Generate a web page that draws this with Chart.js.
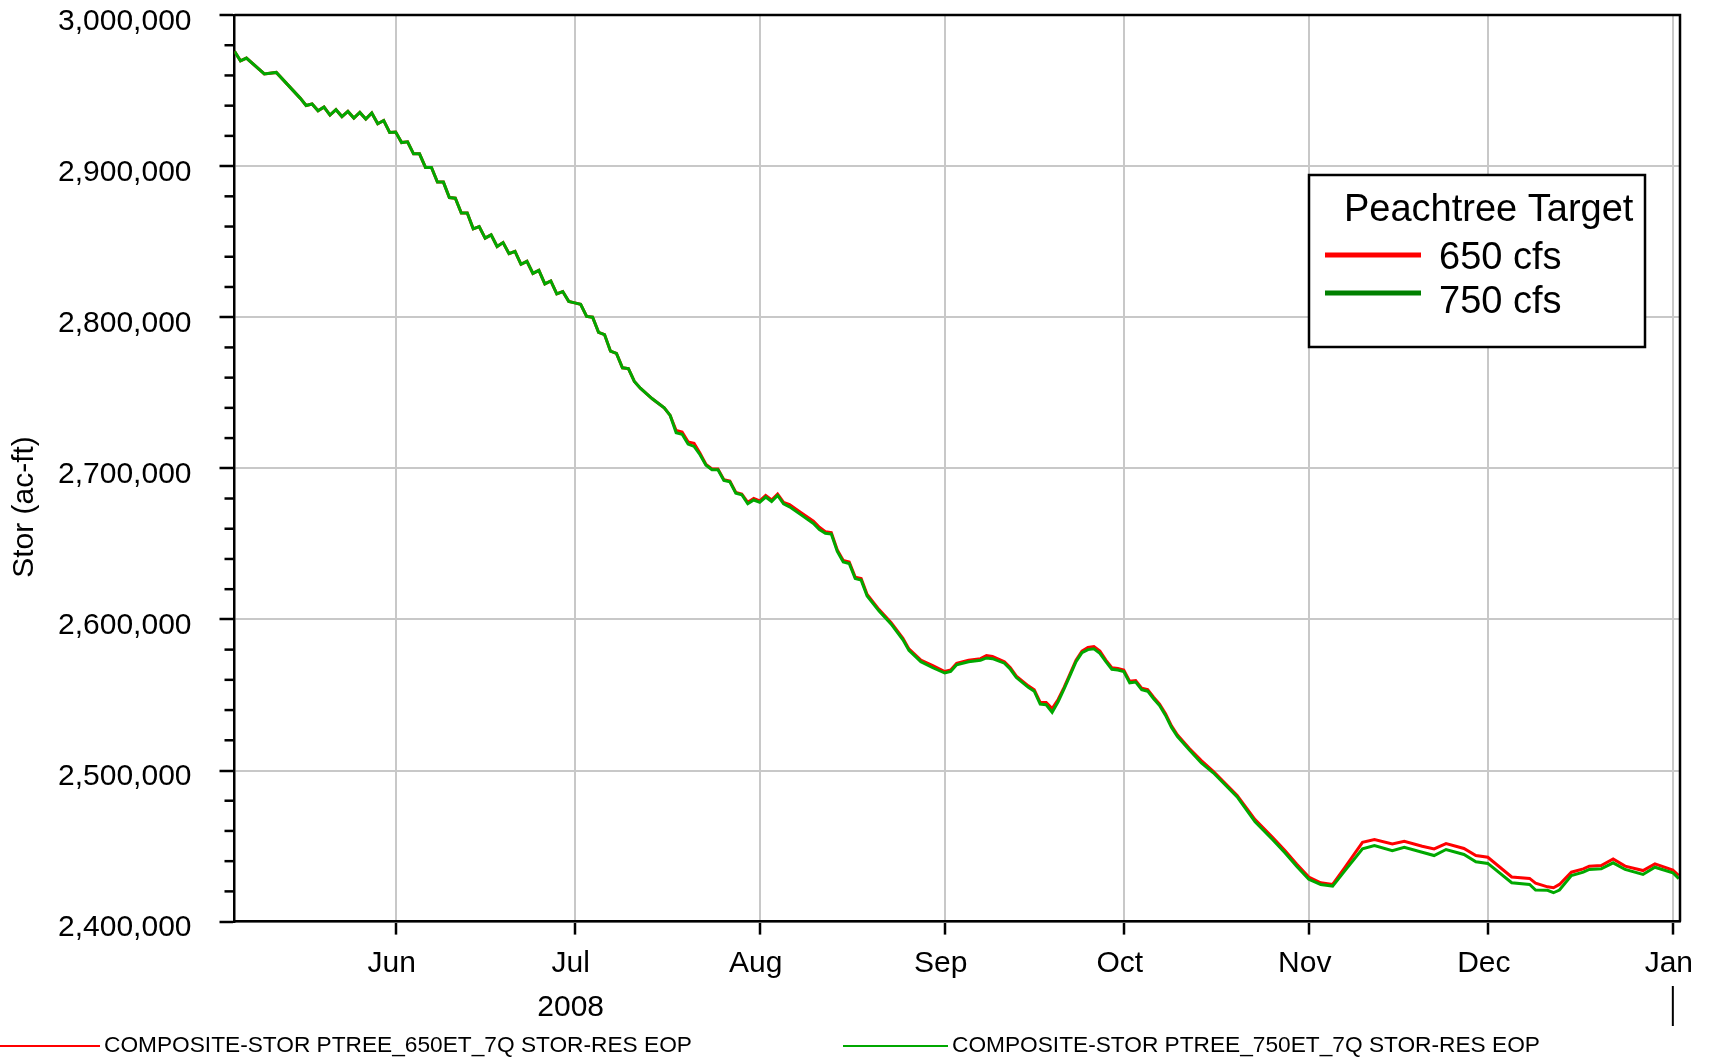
<!DOCTYPE html>
<html>
<head>
<meta charset="utf-8">
<title>Peachtree Target - Stor (ac-ft)</title>
<script src="https://cdn.jsdelivr.net/npm/chart.js@4.4.1/dist/chart.umd.min.js"></script>
<style>
  html, body { margin: 0; padding: 0; background: #fff; }
  #wrap { width: 1710px; height: 1058px; }
</style>
</head>
<body>
<div id="wrap"><canvas id="storChart" width="1710" height="1058"></canvas></div>
<script>
// day number, counted from 1 May 2008 (= day 0)
const days = [
  4, 5, 6, 9, 11,
  15, 16, 17, 18, 19, 20, 21, 22, 23, 24, 25, 26, 27, 28, 29, 30,
  31, 32, 33, 34, 35, 36, 37, 38, 39, 40, 41, 42, 43, 44, 45, 46, 47, 48, 49, 50, 51, 52, 53, 54, 55, 56, 57, 58, 59, 60,
  61, 62, 63, 64, 65, 66, 67, 68, 69, 70, 71, 72, 74, 76, 77, 78, 79, 80, 81, 82, 83, 84, 85, 86, 87, 88, 89, 90, 91,
  92, 93, 94, 95, 96, 97, 99, 101, 102, 103, 104, 105, 106, 107, 108, 109, 110, 112, 114, 116, 117, 119, 121,
  123, 124, 125, 127, 129, 130, 131, 133, 134, 135, 137, 138, 139, 140, 141, 142, 143, 144, 145, 146, 147, 148, 149, 150, 151, 152,
  153, 154, 155, 156, 157, 158, 159, 160, 161, 162, 164, 166, 168, 172, 175, 178, 180, 182,
  184, 186, 188, 190, 193, 195, 198, 200, 203, 205, 207, 210, 212,
  214, 218, 221, 222, 224, 225, 226, 228, 230, 231, 233, 235, 237, 240, 242, 245, 246
];

// COMPOSITE-STOR PTREE_650ET_7Q STOR-RES EOP
const stor650 = [
  2976000, 2969700, 2971500, 2961000, 2962000,
  2945000, 2940100, 2941100, 2936600, 2939100, 2933800, 2937300, 2932800, 2936200, 2931800, 2935500, 2931100, 2935100, 2928000, 2930200, 2922300,
  2922500, 2915600, 2916100, 2908100, 2908100, 2899100, 2899100, 2889400, 2889400, 2879200, 2878800, 2868900, 2868900, 2858500, 2860000, 2852300, 2854500, 2846800, 2849400, 2842000, 2843500, 2835000, 2837000, 2829000, 2831000, 2822000, 2824000, 2815500, 2817000, 2810500,
  2809500, 2808500, 2800500, 2800000, 2790000, 2788500, 2777500, 2776000, 2766500, 2766000, 2757500, 2753000, 2746000, 2740000, 2735000, 2725000, 2724000, 2717500, 2716500, 2710000, 2702500, 2699500, 2699500, 2692500, 2691500, 2684000, 2683000, 2677500, 2680000,
  2678500, 2682000, 2679000, 2683000, 2677500, 2676000, 2670500, 2665000, 2661000, 2658000, 2657500, 2646000, 2639000, 2638000, 2628000, 2627000, 2616500, 2606500, 2598000, 2587500, 2580500, 2573000, 2569500,
  2565500, 2566500, 2571000, 2573000, 2574000, 2576000, 2575500, 2572000, 2568000, 2562500, 2556000, 2553500, 2545000, 2545000, 2541000, 2547000, 2555000, 2564000, 2573000, 2579000, 2581500, 2582000, 2579000, 2573000, 2568000, 2567500,
  2566500, 2559000, 2559500, 2554500, 2553500, 2548500, 2544000, 2537500, 2529500, 2523500, 2514500, 2506500, 2499500, 2483500, 2467500, 2455500, 2447000, 2438000,
  2429500, 2425700, 2424600, 2435600, 2452500, 2454300, 2451400, 2453200, 2449900, 2448100, 2451600, 2448400, 2443700,
  2442600, 2429500, 2428600, 2425500, 2423000, 2422400, 2424600, 2432700, 2434900, 2436700, 2437100, 2441500, 2436700, 2433800, 2438200, 2434100, 2430500
];

// COMPOSITE-STOR PTREE_750ET_7Q STOR-RES EOP
const stor750 = [
  2976000, 2969700, 2971500, 2961000, 2962000,
  2945000, 2940100, 2941100, 2936600, 2939100, 2933800, 2937300, 2932800, 2936200, 2931800, 2935500, 2931100, 2935100, 2928000, 2930200, 2922300,
  2922500, 2915600, 2916100, 2908100, 2908100, 2899100, 2899100, 2889400, 2889400, 2879200, 2878800, 2868900, 2868900, 2858500, 2860000, 2852300, 2854500, 2846800, 2849400, 2842000, 2843500, 2835000, 2837000, 2829000, 2831000, 2822000, 2824000, 2815500, 2817000, 2810500,
  2809500, 2808500, 2800500, 2800000, 2790000, 2788500, 2777500, 2776000, 2766500, 2766000, 2757500, 2753000, 2746000, 2740000, 2735000, 2723500, 2722500, 2716000, 2714500, 2709000, 2702000, 2699000, 2699000, 2692000, 2691000, 2683500, 2682500, 2676500, 2679000,
  2677500, 2681000, 2678000, 2682000, 2676500, 2674500, 2669000, 2663500, 2659500, 2657000, 2656500, 2645000, 2638000, 2637000, 2627000, 2626000, 2615500, 2605500, 2597000, 2586500, 2579500, 2572000, 2568000,
  2564500, 2565500, 2570000, 2572000, 2573000, 2574500, 2574000, 2571000, 2567000, 2561500, 2555000, 2552500, 2544000, 2543500, 2538500, 2545500, 2554000, 2563000, 2572000, 2578000, 2580000, 2580500, 2577500, 2572000, 2567000, 2566500,
  2565500, 2558000, 2558500, 2553500, 2552500, 2547500, 2543000, 2536500, 2528500, 2522500, 2513500, 2505000, 2498500, 2482500, 2466000, 2454000, 2445500, 2436500,
  2428000, 2424600, 2423500, 2433400, 2448100, 2450300, 2447000, 2449200, 2445900, 2443700, 2447700, 2444400, 2439600,
  2438500, 2425700, 2424600, 2420900, 2420700, 2419100, 2420900, 2430500, 2432700, 2434500, 2434900, 2438900, 2434500, 2431200, 2436000, 2432300, 2428400
];

// x axis: first day of each month, and its label
const monthTicks = [31, 61, 92, 123, 153, 184, 214, 245];
const monthLabels = ['Jun', ['Jul', '2008'], 'Aug', 'Sep', 'Oct', 'Nov', 'Dec', 'Jan'];

const seriesNames = ['COMPOSITE-STOR PTREE_650ET_7Q STOR-RES EOP', 'COMPOSITE-STOR PTREE_750ET_7Q STOR-RES EOP'];
const legendTitle = 'Peachtree Target';
const legendLabels = ['650 cfs', '750 cfs'];
const yTitle = 'Stor (ac-ft)';

const FONT = "'Liberation Sans', Arial, Helvetica, sans-serif";
const RED = '#ff0000';
const GREEN = '#00a800';
const GREEN_DARK = '#008000';

Chart.defaults.font.family = FONT;
Chart.defaults.color = '#000';

// frame, minor ticks, axis title and the two legends
const decorPlugin = {
  id: 'decor',
  afterDraw(chart) {
    const ctx = chart.ctx;
    const area = chart.chartArea;
    const xs = chart.scales.x;
    const ys = chart.scales.y;
    ctx.save();

    // top and right of the frame
    ctx.strokeStyle = '#000';
    ctx.lineWidth = 2.5;
    ctx.beginPath();
    ctx.moveTo(area.left, area.top);
    ctx.lineTo(area.right, area.top);
    ctx.lineTo(area.right, area.bottom);
    ctx.stroke();

    // minor ticks on the y axis every 20,000
    for (let v = ys.min; v <= ys.max; v += 20000) {
      if (v % 100000 === 0) continue;
      const py = ys.getPixelForValue(v);
      ctx.beginPath();
      ctx.moveTo(area.left - 10, py);
      ctx.lineTo(area.left, py);
      ctx.stroke();
    }

    // year separator under Jan
    const px = xs.getPixelForValue(245);
    ctx.lineWidth = 2;
    ctx.beginPath();
    ctx.moveTo(px, 986);
    ctx.lineTo(px, 1026);
    ctx.stroke();

    // y axis title
    ctx.fillStyle = '#000';
    ctx.font = '30px ' + FONT;
    ctx.textAlign = 'center';
    ctx.textBaseline = 'middle';
    ctx.save();
    ctx.translate(25, 507);
    ctx.rotate(-Math.PI / 2);
    ctx.fillText(yTitle, 0, 0);
    ctx.restore();

    // legend box inside the plot
    ctx.fillStyle = '#fff';
    ctx.fillRect(1309, 175, 336, 172);
    ctx.strokeStyle = '#000';
    ctx.lineWidth = 2.5;
    ctx.strokeRect(1309, 175, 336, 172);
    ctx.fillStyle = '#000';
    ctx.textAlign = 'left';
    ctx.textBaseline = 'alphabetic';
    ctx.font = '38px ' + FONT;
    ctx.fillText(legendTitle, 1344, 221);
    const boxColors = [RED, GREEN_DARK];
    const lineY = [255, 293];
    const textY = [269, 313];
    legendLabels.forEach((lab, i) => {
      ctx.strokeStyle = boxColors[i];
      ctx.lineWidth = 5;
      ctx.beginPath();
      ctx.moveTo(1325, lineY[i]);
      ctx.lineTo(1421, lineY[i]);
      ctx.stroke();
      ctx.fillText(lab, 1439, textY[i]);
    });

    // series legend along the bottom
    ctx.font = '22.7px ' + FONT;
    const bottomLine = [[0, 100], [843, 948]];
    const bottomColors = [RED, GREEN];
    seriesNames.forEach((name, i) => {
      ctx.strokeStyle = bottomColors[i];
      ctx.lineWidth = 2;
      ctx.beginPath();
      ctx.moveTo(bottomLine[i][0], 1046);
      ctx.lineTo(bottomLine[i][1], 1046);
      ctx.stroke();
      ctx.fillText(name, bottomLine[i][1] + 4, 1052);
    });

    ctx.restore();
  }
};

const ctx = document.getElementById('storChart').getContext('2d');
new Chart(ctx, {
  type: 'line',
  data: {
    datasets: [
      {
        label: seriesNames[0],
        data: days.map((d, i) => ({ x: d, y: stor650[i] })),
        borderColor: RED,
        borderWidth: 3,
        pointRadius: 0,
        tension: 0,
        order: 2
      },
      {
        label: seriesNames[1],
        data: days.map((d, i) => ({ x: d, y: stor750[i] })),
        borderColor: GREEN,
        borderWidth: 3,
        pointRadius: 0,
        tension: 0,
        order: 1
      }
    ]
  },
  options: {
    responsive: false,
    animation: false,
    layout: { padding: { left: 0, top: 15, right: 30, bottom: 0 } },
    plugins: {
      legend: { display: false },
      tooltip: { enabled: false }
    },
    scales: {
      x: {
        type: 'linear',
        min: 4,
        max: 246.2,
        afterBuildTicks: (scale) => {
          scale.ticks = monthTicks.map(v => ({ value: v }));
        },
        afterFit: (scale) => {
          scale.height = 136.4;
          scale.paddingLeft = 0;
          scale.paddingRight = 0;
        },
        ticks: {
          autoSkip: false,
          maxRotation: 0,
          minRotation: 0,
          padding: 7.5,
          labelOffset: -4,
          color: '#000',
          font: { size: 30, lineHeight: 1.45 },
          callback: (v, i) => monthLabels[i]
        },
        grid: {
          color: '#c8c8c8',
          lineWidth: 2,
          tickColor: '#000',
          tickWidth: 2.5,
          tickLength: 13
        },
        border: { color: '#000', width: 2.5 }
      },
      y: {
        min: 2400000,
        max: 3000000,
        afterFit: (scale) => {
          scale.width = 234.5;
          scale.paddingTop = 0;
          scale.paddingBottom = 0;
        },
        ticks: {
          stepSize: 100000,
          padding: 28,
          labelOffset: 6.5,
          color: '#000',
          font: { size: 30, lineHeight: 1 },
          callback: (v) => v.toLocaleString('en-US')
        },
        grid: {
          color: '#c8c8c8',
          lineWidth: 2,
          tickColor: '#000',
          tickWidth: 2.5,
          tickLength: 15
        },
        border: { color: '#000', width: 2.5 }
      }
    }
  },
  plugins: [decorPlugin]
});
</script>
</body>
</html>
